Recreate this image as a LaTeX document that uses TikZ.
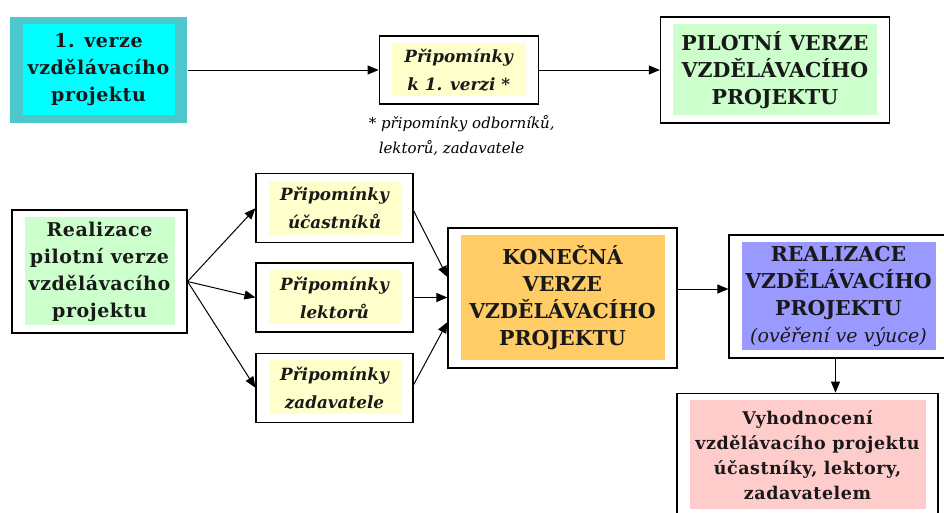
\documentclass[tikz,border=0pt]{standalone}
\usepackage{fontspec}
\setmainfont{DejaVu Serif}
\newfontfamily\widefont{DejaVu Serif}[LetterSpace=3]
\usepackage{tikz}
\usetikzlibrary{arrows.meta, positioning}
\definecolor{projturq}{RGB}{76, 200, 204}
\definecolor{projcyan}{RGB}{0, 255, 255}
\definecolor{projyellow}{RGB}{255, 255, 204}
\definecolor{projgreen}{RGB}{204, 255, 204}
\definecolor{projorange}{RGB}{255, 204, 102}
\definecolor{projblue}{RGB}{153, 153, 255}
\definecolor{projpink}{RGB}{255, 204, 204}

\begin{document}
\begin{tikzpicture}[
    x=1pt, y=1pt,
    box/.style={rectangle, draw=black, fill=white, line width=1.2pt, inner sep=0pt, align=center, text=black!90,
        path picture={\fill[#1] ([xshift=13pt,yshift=-7pt]path picture bounding box.north west) rectangle ([xshift=-12pt,yshift=8pt]path picture bounding box.south east);}},
    bigtext/.style={font=\fontsize{20.5pt}{27pt}\selectfont\bfseries},
    widetext/.style={font=\widefont\fontsize{19pt}{27pt}\selectfont\bfseries},
    notetext/.style={font=\fontsize{15pt}{25pt}\selectfont\itshape},
    remark/.style={box=projyellow, minimum width=157pt, minimum height=69pt, font=\fontsize{16.8pt}{28pt}\selectfont\bfseries\itshape},
    arr/.style={-{Triangle[length=11pt,width=9pt]}, line width=1pt}
]
\clip (0,0) rectangle (944,-512);
\fill[white] (0,0) rectangle (944,-512);

% Top row
\node[box=projcyan, draw=none, fill=projturq, widetext, minimum width=177pt, minimum height=106pt] (v1) at (98.5,-70) {1. verze\\vzdělávacího\\projektu};
\node[remark, minimum width=159pt, minimum height=68pt, right=191pt of v1] (kom1) {Připomínky\\k 1. verzi *};
\node[notetext, align=left, below=7pt of kom1, xshift=3pt] (note) {* připomínky odborníků,\\\hspace*{10pt}lektorů, zadavatele};
\node[box=projgreen, bigtext, minimum width=229pt, minimum height=106pt, right=121pt of kom1] (pilot) {PILOTNÍ VERZE\\VZDĚLÁVACÍHO\\PROJEKTU};

% Bottom row
\node[box=projgreen, widetext, minimum width=175pt, minimum height=123pt] (real) at (99.5,-271.5) {Realizace\\pilotní verze\\vzdělávacího\\projektu};
\node[remark] (pl) at (334.5,-297.5) {Připomínky\\lektorů};
\node[remark, above=19pt of pl] (pu) {Připomínky\\účastníků};
\node[remark, below=20pt of pl] (pz) {Připomínky\\zadavatele};
\node[box=projorange, bigtext, minimum width=229pt, minimum height=140pt] (kon) at (562.5,-298) {KONEČNÁ\\VERZE\\VZDĚLÁVACÍHO\\PROJEKTU};
\node[box=projblue, bigtext, minimum width=219pt, minimum height=123pt] (rea) at (838.5,-296.5) {REALIZACE\\VZDĚLÁVACÍHO\\PROJEKTU\\{\mdseries\itshape\fontsize{19pt}{27pt}\selectfont(ověření ve výuce)}};
\node[box=projpink, font=\widefont\fontsize{17.5pt}{25pt}\selectfont\bfseries, minimum width=261pt, minimum height=124pt, below=34pt of rea, xshift=-31pt] (vyh) {Vyhodnocení\\vzdělávacího projektu\\účastníky, lektory,\\zadavatelem};

% Arrows top
\draw[arr] (v1) -- (kom1);
\draw[arr] (kom1) -- (pilot);

% Fan out to remarks
\coordinate (fan) at ([yshift=-10pt]real.east);
\draw[arr] (fan) -- (pu.west);
\draw[arr] (fan) -- (pl.west);
\draw[arr] (fan) -- (pz.west);

% Remarks into final version
\draw[arr] ([yshift=-2.5pt]pu.east) -- ([yshift=21pt]kon.west);
\draw[arr] (pl.east) -- (kon.west |- pl.east);
\draw[arr] ([yshift=3pt]pz.east) -- ([yshift=-24pt]kon.west);

% Final version to realisation and evaluation
\draw[arr] ([yshift=9pt]kon.east) -- ([yshift=9pt]kon.east -| rea.west);
\draw[arr] ([xshift=-3pt]rea.south) -- ([xshift=-3pt]rea.south |- vyh.north);

\end{tikzpicture}
\end{document}
